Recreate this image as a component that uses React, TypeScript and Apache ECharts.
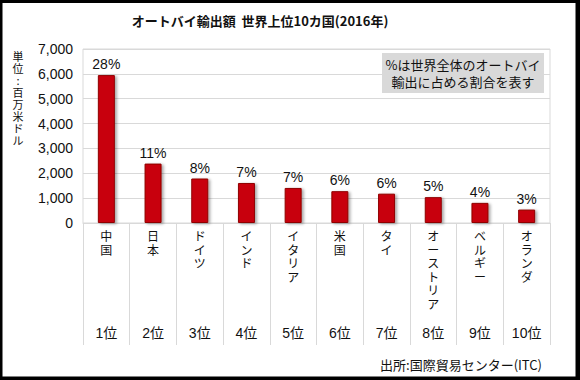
import React, { useEffect, useRef } from "react";
import * as echarts from "echarts";

const categories = ["中国", "日本", "ドイツ", "インド", "イタリア", "米国", "タイ", "オーストリア", "ベルギー", "オランダ"];
const values = [5950, 2390, 1790, 1610, 1410, 1280, 1180, 1040, 810, 540];
const shares = ["28%", "11%", "8%", "7%", "7%", "6%", "6%", "5%", "4%", "3%"];
const ranks = ["1位", "2位", "3位", "4位", "5位", "6位", "7位", "8位", "9位", "10位"];
const yMin = 0;
const yMax = 7000;
const yStep = 1000;
const title = "オートバイ輸出額  世界上位10カ国(2016年)";
const unitLabel = "単位:百万米ドル";
const noteLines = ["%は世界全体のオートバイ", "輸出に占める割合を表す"];
const source = "出所:国際貿易センター(ITC)";

const LATIN = "'Liberation Sans', Arial, 'Noto Sans CJK JP', sans-serif";
const CJK = "'Noto Sans CJK JP', 'Liberation Sans', sans-serif";

export default function App() {
  const ref = useRef<HTMLDivElement>(null);
  useEffect(() => {
    if (!ref.current) return;
    const chart = echarts.init(ref.current, null, { renderer: "svg" });
    const option: any = {
      animation: false,
      backgroundColor: "#ffffff",
      grid: {
        left: 83,
        right: 30,
        top: 49,
        bottom: 157,
        show: true,
        borderColor: "#d9d9d9",
        borderWidth: 1,
        containLabel: false,
      },
      xAxis: [
        {
          type: "category",
          data: categories,
          position: "bottom",
          axisLine: { show: true, lineStyle: { color: "#d9d9d9", width: 1 } },
          axisTick: { show: true, interval: 0, length: 122, lineStyle: { color: "#d9d9d9", width: 1 } },
          axisLabel: {
            interval: 0,
            margin: 6,
            verticalAlign: "top",
            fontSize: 12,
            lineHeight: 13.5,
            color: "#111",
            fontFamily: CJK,
            formatter: (v: string) => v.split("").join("\n"),
          },
          splitLine: { show: false },
        },
        {
          type: "category",
          data: ranks,
          position: "bottom",
          offset: 100,
          axisLine: { show: false },
          axisTick: { show: false },
          axisLabel: {
            interval: 0,
            margin: 3,
            fontSize: 14,
            color: "#111",
            fontFamily: LATIN,
          },
          splitLine: { show: false },
        },
      ],
      yAxis: {
        type: "value",
        min: yMin,
        max: yMax,
        interval: yStep,
        axisLine: { show: false },
        axisTick: { show: false },
        axisLabel: {
          margin: 10,
          fontSize: 14,
          color: "#111",
          fontFamily: LATIN,
          formatter: (v: number) => v.toLocaleString("en-US"),
        },
        splitLine: { show: true, lineStyle: { color: "#d9d9d9", width: 1 } },
      },
      series: [
        {
          type: "bar",
          xAxisIndex: 0,
          data: values,
          barWidth: 17,
          itemStyle: {
            color: "#c8000a",
            borderColor: "#8f0000",
            borderWidth: 1,
            shadowColor: "rgba(0,0,0,0.35)",
            shadowBlur: 3,
            shadowOffsetX: 2,
            shadowOffsetY: 1,
          },
          label: {
            show: true,
            position: "top",
            distance: 4,
            fontSize: 14,
            color: "#111",
            fontFamily: LATIN,
            formatter: (p: any) => shares[p.dataIndex],
          },
        },
      ],
      graphic: [
        {
          type: "text",
          x: 260,
          y: 20,
          style: {
            text: title,
            fontSize: 13,
            fontWeight: "bold",
            fill: "#111",
            fontFamily: CJK,
            textAlign: "center",
            textVerticalAlign: "middle",
          },
        },
        {
          type: "text",
          x: 18,
          y: 50,
          style: {
            text: unitLabel.split("").join("\n"),
            fontSize: 11,
            lineHeight: 12,
            fill: "#111",
            fontFamily: CJK,
            textAlign: "center",
            textVerticalAlign: "top",
          },
        },
        {
          type: "rect",
          shape: { x: 382, y: 53, width: 162, height: 40 },
          style: { fill: "#d9d9d9" },
        },
        {
          type: "text",
          x: 463,
          y: 73,
          style: {
            text: noteLines.join("\n"),
            fontSize: 13,
            lineHeight: 17,
            fill: "#111",
            fontFamily: CJK,
            textAlign: "center",
            textVerticalAlign: "middle",
          },
        },
        {
          type: "text",
          x: 542,
          y: 364,
          style: {
            text: source,
            fontSize: 13,
            fill: "#111",
            fontFamily: CJK,
            textAlign: "right",
            textVerticalAlign: "middle",
          },
        },
        { type: "rect", shape: { x: 0, y: 0, width: 2.5, height: 380 }, style: { fill: "#000" } },
        { type: "rect", shape: { x: 0, y: 0, width: 580, height: 3 }, style: { fill: "#000" } },
        { type: "rect", shape: { x: 575.5, y: 0, width: 4.5, height: 380 }, style: { fill: "#000" } },
        { type: "rect", shape: { x: 0, y: 376.5, width: 580, height: 3.5 }, style: { fill: "#000" } },
      ],
    };
    chart.setOption(option);
    return () => {
      chart.dispose();
    };
  }, []);
  return (
    <div style={{ position: "fixed", left: 0, top: 0, width: 580, height: 380, background: "#fff" }}>
      <div ref={ref} style={{ width: 580, height: 380 }} />
    </div>
  );
}
